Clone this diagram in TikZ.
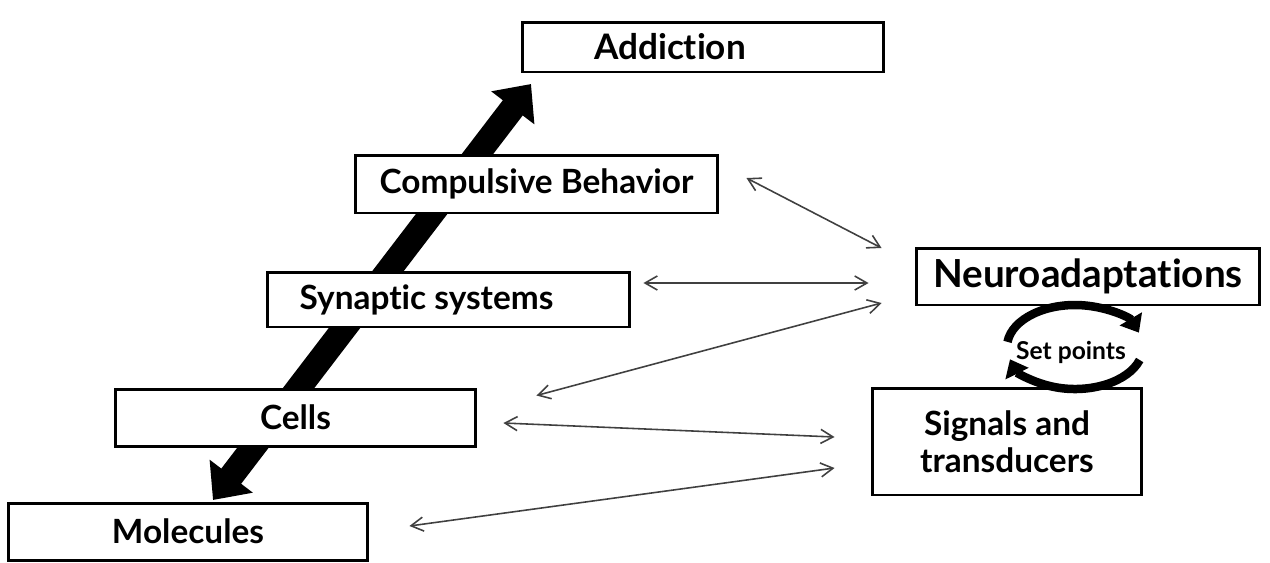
\documentclass[tikz,border=0pt]{standalone}
\usepackage{fontspec}
\setmainfont{Lato}[Ligatures=NoCommon]
\usetikzlibrary{arrows.meta}

\tikzset{
  boxtext/.style={font=\fontsize{19}{21}\selectfont\bfseries, align=center},
  box/.style={draw, line width=1.7pt, fill=white, inner sep=0pt, boxtext},
  link/.style={{Straight Barb[length=7pt,width=8pt]}-{Straight Barb[length=7pt,width=8pt]}, draw=black!75, line width=0.9pt},
  ladder/.style={{Triangle[length=0.6cm,width=1.05cm]}-{Triangle[length=0.6cm,width=1.05cm]}, line width=0.5cm},
  loopline/.style={-{Triangle[length=0.32cm,width=0.5cm]}, line width=0.17cm},
}

\begin{document}
\begin{tikzpicture}[x=0.02cm, y=-0.02cm]
  \useasboundingbox (0,0) rectangle (1270,562);

  \coordinate (low) at (213,500);
  \coordinate (high) at (531,84);
  \draw[ladder] (low) -- (high);

  \node (addiction) [box, minimum width=7.24cm, minimum height=1cm,
    label={[boxtext, font=\fontsize{20}{22}\selectfont\bfseries, xshift=-0.66cm]center:Addiction}] at (703,47) {};
  \node (compulsive) [box, minimum width=7.26cm, minimum height=1.16cm] at (536.5,184) {Compulsive Behavior};
  \node (synaptic) [box, minimum width=7.26cm, minimum height=1.1cm,
    label={[boxtext, xshift=-0.44cm]center:Synaptic systems}] at (448.5,299.5) {};
  \node (cells) [box, minimum width=7.22cm, minimum height=1.14cm] at (295.5,417.5) {Cells};
  \node (molecules) [box, minimum width=7.2cm, minimum height=1.14cm] at (188,531.5) {Molecules};
  \node (neuro) [box, minimum width=6.88cm, minimum height=1.14cm,
    font=\fontsize{22}{24}\selectfont\bfseries] at (1088,276.5) {Neuroadaptations};
  \node (signals) [box, minimum width=5.4cm, minimum height=2.14cm] at (1007,441.5) {Signals and\\transducers};

  \draw[loopline] ([shift={(187:68 and 42)}]1075,347) arc[start angle=187, end angle=340, x radius=68, y radius=42];
  \draw[loopline] ([shift={(18:68 and 42)}]1075,347) arc[start angle=18, end angle=163, x radius=68, y radius=42];
  \node (setpts) [font=\fontsize{14}{16}\selectfont\bfseries] at (1071,352) {Set points};

  \draw[link] ([shift={(27,-6)}]compulsive.east) -- ([shift={(-33,-28.5)}]neuro.west);
  \draw[link] ([shift={(12,-16.5)}]synaptic.east) -- ([shift={(-46,6.5)}]neuro.west);
  \draw[link] ([shift={(59,8)}]cells.north east) -- ([shift={(-33,26.5)}]neuro.west);
  \draw[link] ([shift={(26,5.5)}]cells.east) -- ([shift={(-36,-4.5)}]signals.west);
  \draw[link] ([shift={(40,-5.5)}]molecules.east) -- ([shift={(-36,26.5)}]signals.west);
\end{tikzpicture}
\end{document}
